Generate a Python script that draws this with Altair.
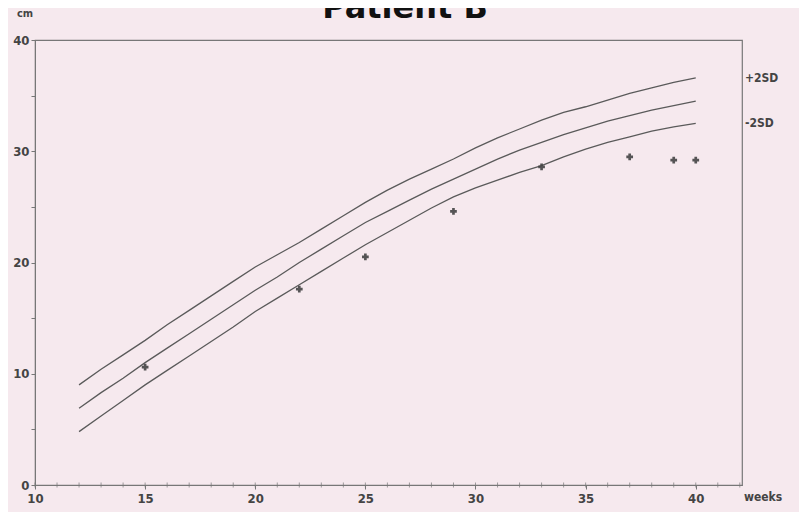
import altair as alt
import pandas as pd

weeks = list(range(12, 41))
upper = [9.0, 10.4, 11.7, 13.0, 14.4, 15.7, 17.0, 18.3, 19.6, 20.7, 21.8, 23.0, 24.2, 25.4,
         26.5, 27.5, 28.4, 29.3, 30.3, 31.2, 32.0, 32.8, 33.5, 34.0, 34.6, 35.2, 35.7, 36.2, 36.6]
median = [6.9, 8.3, 9.6, 11.0, 12.3, 13.6, 14.9, 16.2, 17.5, 18.7, 20.0, 21.2, 22.4, 23.6,
          24.6, 25.6, 26.6, 27.5, 28.4, 29.3, 30.1, 30.8, 31.5, 32.1, 32.7, 33.2, 33.7, 34.1, 34.5]
lower = [4.8, 6.2, 7.6, 9.0, 10.3, 11.6, 12.9, 14.2, 15.6, 16.8, 18.0, 19.2, 20.4, 21.6,
         22.7, 23.8, 24.9, 25.9, 26.7, 27.4, 28.1, 28.7, 29.5, 30.2, 30.8, 31.3, 31.8, 32.2, 32.5]

patient_weeks = [15, 22, 25, 29, 33, 37, 39, 40]
patient_cm = [10.6, 17.6, 20.5, 24.6, 28.6, 29.5, 29.2, 29.2]

sd_labels = ["+2SD", "-2SD"]
sd_values = [36.6, 32.5]

x_label_values = [10, 15, 20, 25, 30, 35, 40]
x_minor_ticks = list(range(10, 43))
y_tick_values = [0, 5, 10, 15, 20, 25, 30, 35, 40]

rows = []
for name, vals in (("upper", upper), ("median", median), ("lower", lower)):
    for w, v in zip(weeks, vals):
        rows.append({"week": w, "cm": v, "curve": name})
curves = pd.DataFrame(rows)
pts = pd.DataFrame({"week": patient_weeks, "cm": patient_cm})
lab = pd.DataFrame({"label": sd_labels, "cm": sd_values})
minor = pd.DataFrame({"week": x_minor_ticks})

font = "DejaVu Sans Condensed, DejaVu Sans, sans-serif"
xs = alt.Scale(domain=[10, 42.1], nice=False, zero=False)
ys = alt.Scale(domain=[0, 40], nice=False)

x_axis = alt.Axis(values=x_label_values, title=None, grid=False, tickSize=4, labelFontSize=13,
                  labelFontWeight="bold", labelFont=font, labelColor="#444", domainColor="#777",
                  tickColor="#777", labelPadding=3, labelOverlap=False, labelFlush=False)
y_axis = alt.Axis(values=y_tick_values, labelExpr="datum.value % 10 == 0 ? datum.label : ''",
                  title=None, grid=False, tickSize=4, labelFontSize=13, labelFontWeight="bold",
                  labelFont=font, labelColor="#444", domainColor="#777", tickColor="#777",
                  labelPadding=2, labelFlush=False)

lines = alt.Chart(curves).mark_line(color="#5a5a5a", strokeWidth=1.3).encode(
    x=alt.X("week:Q", scale=xs, axis=x_axis),
    y=alt.Y("cm:Q", scale=ys, axis=y_axis),
    detail="curve:N",
)

minor_ticks = alt.Chart(minor).mark_tick(orient="vertical", color="#777", thickness=1, size=5).encode(
    x=alt.X("week:Q", scale=xs),
    y=alt.value(445),
)

points = alt.Chart(pts).mark_point(shape="cross", filled=True, color="#444", size=45, opacity=0.9).encode(
    x=alt.X("week:Q", scale=xs),
    y=alt.Y("cm:Q", scale=ys),
)

sd = alt.Chart(lab).mark_text(align="left", baseline="middle", font=font, fontSize=12,
                              fontWeight="bold", color="#444").encode(
    x=alt.value(710),
    y=alt.Y("cm:Q", scale=ys),
    text="label:N",
)

title = alt.Chart(pd.DataFrame({"t": ["Patient B"]})).mark_text(
    align="center", baseline="alphabetic", font="DejaVu Sans, sans-serif", fontSize=32,
    fontWeight="bold", color="#111").encode(x=alt.value(370), y=alt.value(-22), text="t:N")

cm_lab = alt.Chart(pd.DataFrame({"t": ["cm"]})).mark_text(
    align="left", baseline="middle", font=font, fontSize=11, fontWeight="bold",
    color="#444").encode(x=alt.value(-18), y=alt.value(-26), text="t:N")

weeks_lab = alt.Chart(pd.DataFrame({"t": ["weeks"]})).mark_text(
    align="left", baseline="middle", font=font, fontSize=12, fontWeight="bold",
    color="#444").encode(x=alt.value(709), y=alt.value(457), text="t:N")

chart = alt.layer(lines, minor_ticks, points, sd, title, cm_lab, weeks_lab).properties(
    width=707, height=445,
    autosize=alt.AutoSizeParams(type="none"),
    padding={"left": 27, "top": 32, "right": 57, "bottom": 27},
    background="#f6e9ee",
).configure_view(stroke="#777", strokeWidth=1.2)

chart.save("out.html", embed_options={"renderer": "svg", "actions": False})
